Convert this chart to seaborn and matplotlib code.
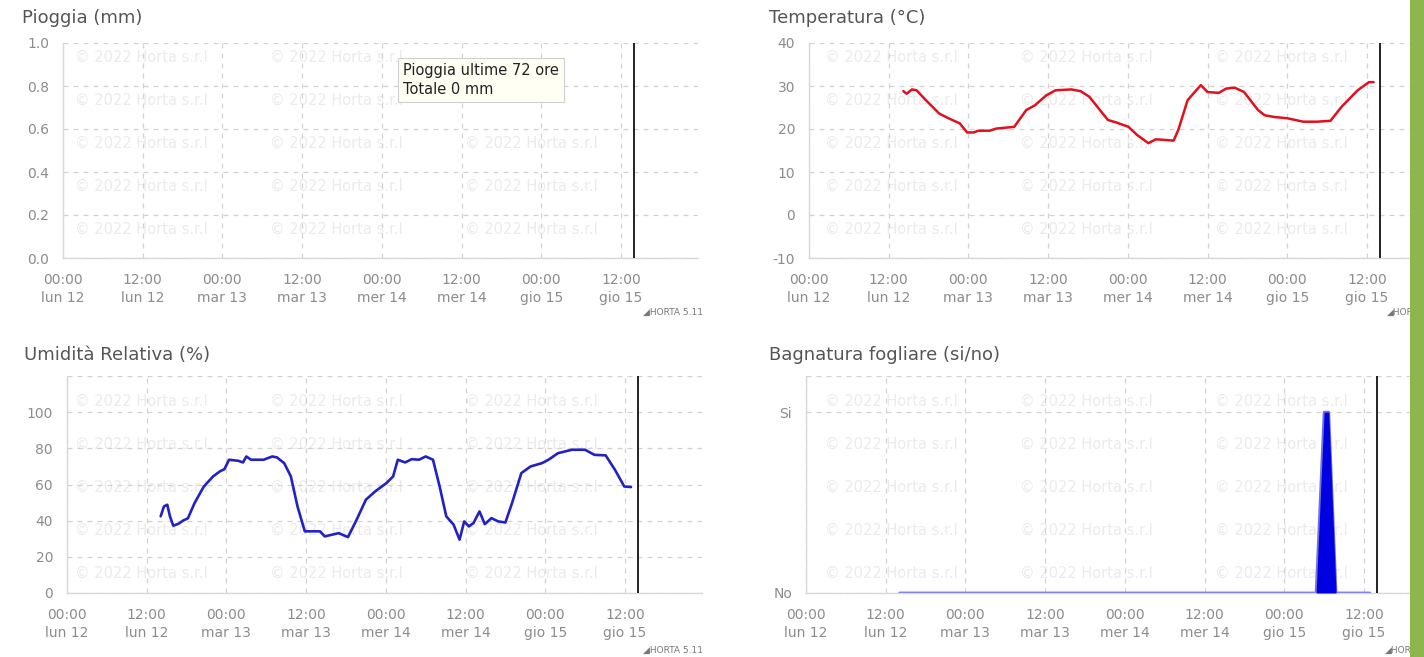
import matplotlib.pyplot as plt
import pandas as pd
import seaborn as sns
from matplotlib.patches import Rectangle

# hours counted from 00:00 lun 12
TICK_HOURS = [0, 12, 24, 36, 48, 60, 72, 84]
TICK_LABELS = [
    "00:00\nlun 12", "12:00\nlun 12", "00:00\nmar 13", "12:00\nmar 13",
    "00:00\nmer 14", "12:00\nmer 14", "00:00\ngio 15", "12:00\ngio 15",
]
NOW_HOUR = 86.0
RAIN_TOTAL_MM = 0

RAIN_TICKS = [0.0, 0.2, 0.4, 0.6, 0.8, 1.0]
TEMP_TICKS = [-10, 0, 10, 20, 30, 40]
RH_TICKS = [0, 20, 40, 60, 80, 100, 120]
LEAF_TICKS = [0, 1, 1.2]

TEMP_HOURS = [14.2, 14.7, 15.5, 16.2, 17.6, 19.6, 21.0, 22.7, 23.8, 24.8, 25.5, 27.2,
              28.2, 30.9, 32.7, 34.0, 35.7, 37.1, 39.5, 40.9, 42.2, 43.6, 45.0, 46.3,
              48.1, 49.4, 51.1, 52.2, 53.2, 54.9, 55.6, 57.0, 58.3, 59.0, 60.0, 61.7,
              62.8, 64.1, 65.5, 67.6, 68.6, 70.0, 72.0, 74.4, 76.5, 78.5, 80.2, 82.6,
              84.3, 85.0]
TEMP_C = [28.8, 28.2, 29.2, 29.0, 26.7, 23.6, 22.5, 21.3, 19.2, 19.2, 19.6, 19.6,
          20.1, 20.5, 24.4, 25.5, 27.8, 29.0, 29.2, 28.8, 27.5, 24.8, 22.1, 21.5,
          20.5, 18.6, 16.7, 17.6, 17.5, 17.3, 19.8, 26.7, 29.0, 30.2, 28.6, 28.4,
          29.4, 29.6, 28.6, 24.4, 23.2, 22.8, 22.5, 21.7, 21.7, 21.9, 25.2, 29.0,
          30.9, 30.9]

RH_HOURS = [14.1, 14.6, 15.1, 15.5, 16.0, 16.8, 17.5, 18.2, 19.2, 20.6, 22.0, 23.0,
            23.7, 24.4, 25.8, 26.5, 27.0, 27.7, 29.6, 30.9, 31.6, 32.7, 33.7, 34.7,
            35.8, 36.8, 38.1, 38.8, 40.9, 42.3, 43.6, 45.0, 46.4, 48.1, 49.1, 49.8,
            50.9, 51.9, 53.0, 54.0, 55.1, 56.1, 57.1, 58.2, 59.1, 59.8, 60.5, 61.2,
            62.1, 62.9, 63.9, 64.9, 66.0, 67.0, 68.4, 69.8, 71.5, 72.5, 73.9, 76.0,
            78.0, 79.4, 81.1, 82.5, 83.9, 84.9]
RH_PCT = [42.4, 47.9, 48.8, 42.4, 37.2, 38.3, 40.1, 41.3, 49.7, 58.9, 64.5, 67.2,
          68.5, 73.7, 73.1, 72.2, 75.5, 73.7, 73.7, 75.5, 75.0, 71.8, 64.5, 47.9,
          34.1, 34.1, 34.1, 31.3, 33.1, 30.9, 40.5, 51.6, 56.2, 60.8, 64.5, 73.7,
          72.2, 74.0, 73.7, 75.5, 73.7, 58.9, 42.4, 37.8, 29.5, 39.6, 36.8, 38.7,
          45.1, 38.1, 41.4, 39.6, 39.0, 49.7, 66.3, 70.0, 71.8, 73.7, 77.3, 79.2,
          79.2, 76.4, 76.1, 68.1, 58.9, 58.6]

LEAF_HOURS = [14.1, 76.8, 78.0, 78.7, 79.8, 84.9]
LEAF_WET = [0, 0, 1, 1, 0, 0]

W, H = 1424, 657
PANEL_W = 635
X_MAX = 95.6
TICK_COLOR = "#8c8c8c"
TITLE_COLOR = "#555555"
GRID_COLOR = "#d2d2d2"

sns.set_theme(style="white")
plt.rcParams["font.family"] = ["DejaVu Sans"]

fig = plt.figure(figsize=(W / 100, H / 100), dpi=100)
fig.patch.set_facecolor("white")

# faint copyright watermark, kept inside the plot areas
WM_ROWS = [57, 100, 143, 186, 229, 401, 444, 487, 530, 573]
WM_COLS = [75, 270, 465, 825, 1020, 1215]
for y_px in WM_ROWS:
    for x_px in WM_COLS:
        if x_px == 465 and y_px < 110:
            continue  # hidden behind the rain tooltip
        fig.text(x_px / W, 1 - y_px / H, "\u00a9 2022 Horta s.r.l", fontsize=10.5,
                 color="#ebebeb", va="center", ha="left", zorder=-5)


def make_axes(left_px, top_px, bottom_px):
    ax = fig.add_axes([left_px / W, 1 - bottom_px / H, PANEL_W / W, (bottom_px - top_px) / H])
    ax.set_facecolor("none")
    return ax


def style_axes(ax, yticks, ylabels, ylim):
    ax.set_xlim(0, X_MAX)
    ax.set_ylim(*ylim)
    ax.set_xticks(TICK_HOURS, TICK_LABELS)
    ax.set_yticks(yticks, ylabels)
    ax.tick_params(length=0, labelsize=10, labelcolor=TICK_COLOR)
    ax.tick_params(axis="x", pad=11)
    ax.tick_params(axis="y", pad=10)
    for lab in ax.get_xticklabels():
        lab.set_linespacing(1.35)
    ax.grid(True, color=GRID_COLOR, linestyle=(0, (4, 4)), linewidth=0.9)
    for side in ("top", "right"):
        ax.spines[side].set_visible(False)
    for side in ("left", "bottom"):
        ax.spines[side].set_color("#d8d8d8")
        ax.spines[side].set_linewidth(1.0)
    ax.axvline(NOW_HOUR, color="#222222", linewidth=1.4, zorder=4)
    ax.set_xlabel("")
    ax.set_ylabel("")


def panel_title(x_px, y_px, text):
    fig.text(x_px / W, 1 - y_px / H, text, fontsize=13, color=TITLE_COLOR,
             ha="left", va="center")


def version_tag(x_px, y_px, text="\u25e2HORTA 5.11"):
    fig.text(x_px / W, 1 - y_px / H, text, fontsize=6.5, color="#777777",
             ha="left", va="center")


# Pioggia
ax_rain = make_axes(63, 43, 258)
style_axes(ax_rain, RAIN_TICKS, [f"{v:.1f}" for v in RAIN_TICKS], (0, 1.0))
ax_rain.text(0.535, 0.905, f"Pioggia ultime 72 ore\nTotale {RAIN_TOTAL_MM} mm",
             transform=ax_rain.transAxes, fontsize=10.5, color="#222222",
             ha="left", va="top", linespacing=1.3, zorder=6,
             bbox=dict(boxstyle="square,pad=0.35", facecolor="#fffff4",
                       edgecolor="#cfcfcf", linewidth=0.8))
panel_title(22, 18, "Pioggia (mm)")
version_tag(643, 312)

# Temperatura
ax_temp = make_axes(809, 43, 258)
temp = pd.DataFrame({"hour": TEMP_HOURS, "temp": TEMP_C})
sns.lineplot(data=temp, x="hour", y="temp", ax=ax_temp, color="#e0101e", linewidth=1.8)
style_axes(ax_temp, TEMP_TICKS, [str(v) for v in TEMP_TICKS], (-10, 40))
panel_title(769, 18, "Temperatura (\u00b0C)")
version_tag(1387, 312, "\u25e2HOR")

# Umidita relativa
ax_rh = make_axes(67, 376, 593)
rh = pd.DataFrame({"hour": RH_HOURS, "rh": RH_PCT})
sns.lineplot(data=rh, x="hour", y="rh", ax=ax_rh, color="#2222c4", linewidth=1.9)
style_axes(ax_rh, RH_TICKS, [str(v) for v in RH_TICKS[:-1]] + [""], (0, 120))
panel_title(24, 355, "Umidit\u00e0 Relativa (%)")
version_tag(643, 650)

# Bagnatura fogliare
ax_leaf = make_axes(806, 376, 593)
leaf = pd.DataFrame({"hour": LEAF_HOURS, "wet": LEAF_WET})
ax_leaf.fill_between(leaf["hour"], 0, leaf["wet"], color="#0000e0", linewidth=0, zorder=3)
sns.lineplot(data=leaf, x="hour", y="wet", ax=ax_leaf, color="#7272dc", linewidth=2.0)
style_axes(ax_leaf, LEAF_TICKS, ["No", "Si", ""], (0, 1.2))
panel_title(769, 355, "Bagnatura fogliare (si/no)")
version_tag(1385, 650, "\u25e2HOR")

# green border on the right edge of the screenshot
fig.patches.append(Rectangle((1410 / W, 0), 14 / W, 1, transform=fig.transFigure,
                             facecolor="#8db64c", edgecolor="none", zorder=20))

fig.savefig("out.png", dpi=100)
plt.close(fig)
